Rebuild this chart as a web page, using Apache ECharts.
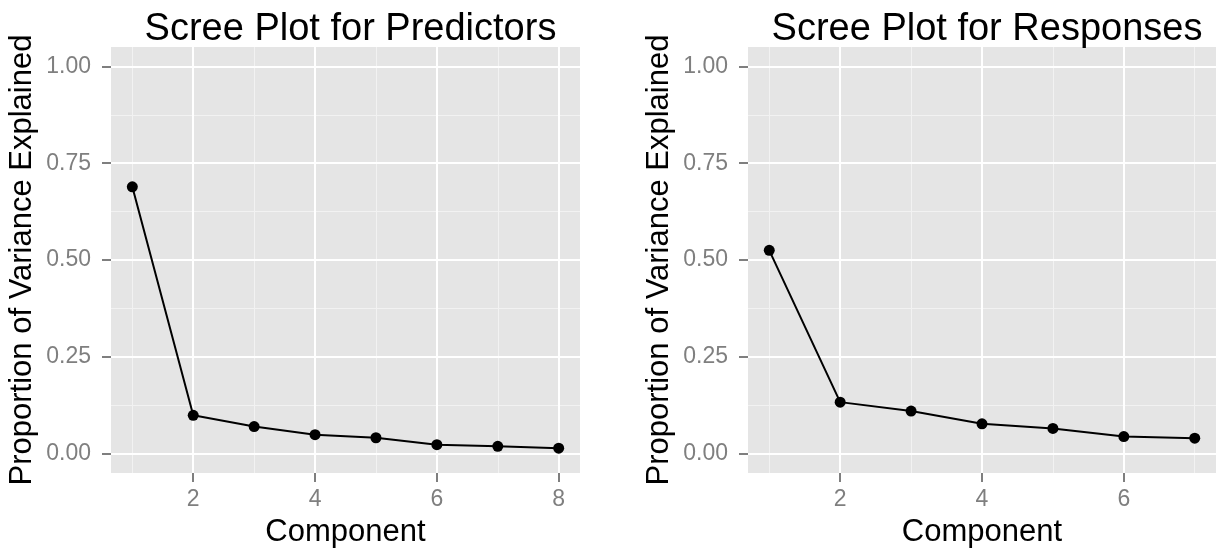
<!DOCTYPE html>
<html>
<head>
<meta charset="utf-8">
<script src="https://cdn.jsdelivr.net/npm/echarts@6/dist/echarts.min.js"></script>
<style>
html,body{margin:0;padding:0;background:#fff;}
#c{width:1219px;height:548px;}
</style>
</head>
<body>
<div id="c"></div>
<script>
// ---- data ----
const predComponents = [1, 2, 3, 4, 5, 6, 7, 8];
const predVariance = [0.689, 0.099, 0.070, 0.049, 0.041, 0.023, 0.019, 0.014];
const respComponents = [1, 2, 3, 4, 5, 6, 7];
const respVariance = [0.525, 0.133, 0.110, 0.077, 0.065, 0.044, 0.040];
const yTicks = [0, 0.25, 0.5, 0.75, 1.0];
const yMinor = [0.125, 0.375, 0.625, 0.875];
const predXTicks = [2, 4, 6, 8];
const predXMinor = [1, 3, 5, 7];
const respXTicks = [2, 4, 6];
const respXMinor = [1, 3, 5, 7];
const titles = ['Scree Plot for Predictors', 'Scree Plot for Responses'];
const xName = 'Component';
const yName = 'Proportion of Variance Explained';

const FONT = "'Liberation Sans', Arial, sans-serif";
const grids = [
  {left: 111, top: 47, width: 469, height: 426},
  {left: 748, top: 47, width: 468, height: 426}
];
const xRanges = [[0.65, 8.35], [0.7, 7.3]];

function majorX(i, ticks) {
  return {
    type: 'value', gridIndex: i, min: xRanges[i][0], max: xRanges[i][1], position: 'bottom',
    name: xName, nameLocation: 'middle', nameGap: 44,
    nameTextStyle: {color: '#000', fontSize: 31, fontFamily: FONT},
    axisLine: {show: false, onZero: false},
    axisTick: {show: true, customValues: ticks, length: 9, lineStyle: {color: '#7f7f7f', width: 2}},
    axisLabel: {show: true, customValues: ticks, margin: 15, color: '#7f7f7f', fontSize: 23, fontFamily: FONT},
    splitLine: {show: true, lineStyle: {color: '#ffffff', width: 2}},
    z: 3
  };
}
// tick-only companion axis (same scale, same ticks) at the bottom edge
function tickX(i, ticks) {
  return {
    type: 'value', gridIndex: i, min: xRanges[i][0], max: xRanges[i][1], position: 'bottom', offset: 0,
    axisLine: {show: false, onZero: false},
    axisTick: {show: true, inside: false, customValues: ticks, length: 9, lineStyle: {color: '#7f7f7f', width: 2}},
    axisLabel: {show: false, customValues: ticks},
    splitLine: {show: false},
    z: 4
  };
}
function minorX(i, ticks) {
  return {
    type: 'value', gridIndex: i, min: xRanges[i][0], max: xRanges[i][1], position: 'top',
    axisLine: {show: false, onZero: false},
    axisTick: {show: false, customValues: ticks},
    axisLabel: {show: false, customValues: ticks},
    splitLine: {show: true, lineStyle: {color: '#f2f2f2', width: 1}},
    z: 1
  };
}
function majorY(i) {
  return {
    type: 'value', gridIndex: i, min: -0.05, max: 1.05, position: 'left',
    name: yName, nameLocation: 'middle', nameGap: 73, nameRotate: 90,
    nameTextStyle: {color: '#000', fontSize: 31, fontFamily: FONT},
    axisLine: {show: false, onZero: false},
    axisTick: {show: true, customValues: yTicks, length: 9, lineStyle: {color: '#7f7f7f', width: 2}},
    axisLabel: {show: true, customValues: yTicks, margin: 20, color: '#7f7f7f', fontSize: 23, fontFamily: FONT,
      formatter: v => Number(v).toFixed(2)},
    splitLine: {show: true, lineStyle: {color: '#ffffff', width: 2}},
    z: 3
  };
}
function minorY(i) {
  return {
    type: 'value', gridIndex: i, min: -0.05, max: 1.05, position: 'right',
    axisLine: {show: false, onZero: false},
    axisTick: {show: false, customValues: yMinor},
    axisLabel: {show: false, customValues: yMinor},
    splitLine: {show: true, lineStyle: {color: '#f2f2f2', width: 1}},
    z: 1
  };
}

// x axes order: [major0, minor0, tick0, major1, minor1, tick1]
function seriesFor(i, xs, ys) {
  return {
    type: 'line', xAxisIndex: i * 3, yAxisIndex: i * 2,
    data: xs.map((x, k) => [x, ys[k]]),
    symbol: 'circle', symbolSize: 11,
    itemStyle: {color: '#000'},
    lineStyle: {color: '#000', width: 2},
    z: 5
  };
}

const chart = echarts.init(document.getElementById('c'));
chart.setOption({
  animation: false,
  title: titles.map((t, i) => ({
    text: t, left: grids[i].left + grids[i].width / 2, top: 6, textAlign: 'center',
    textStyle: {color: '#000', fontSize: 38, fontWeight: 'normal', fontFamily: FONT}
  })),
  grid: grids.map(g => Object.assign({show: true, backgroundColor: '#e5e5e5', borderWidth: 0,
    outerBoundsMode: 'none'}, g)),
  xAxis: [majorX(0, predXTicks), minorX(0, predXMinor), tickX(0, predXTicks),
          majorX(1, respXTicks), minorX(1, respXMinor), tickX(1, respXTicks)],
  yAxis: [majorY(0), minorY(0), majorY(1), minorY(1)],
  series: [seriesFor(0, predComponents, predVariance), seriesFor(1, respComponents, respVariance)]
});
</script>
</body>
</html>
